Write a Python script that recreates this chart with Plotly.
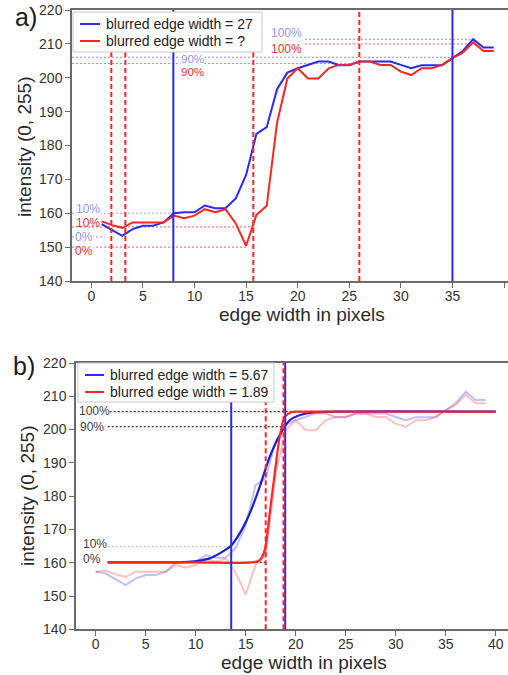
import plotly.graph_objects as go

# ---------------- data ----------------
pixel_x = list(range(40))
blue_intensity = [157.3, 156.8, 155.0, 153.3, 155.3, 156.3, 156.3, 157.3, 160.0, 160.3,
                  160.3, 162.3, 161.5, 161.5, 164.4, 171.3, 183.4, 185.4, 196.6, 201.5,
                  202.8, 203.8, 204.8, 204.8, 203.7, 203.7, 204.8, 204.8, 204.8, 204.8,
                  203.8, 202.8, 203.7, 203.7, 203.7, 205.8, 207.9, 211.4, 208.9, 208.9]
red_intensity = [157.3, 157.6, 156.5, 155.7, 157.3, 157.3, 157.3, 157.3, 159.3, 158.5,
                 159.3, 161.2, 160.3, 161.2, 157.0, 150.4, 159.5, 162.2, 186.7, 199.8,
                 202.8, 199.8, 199.8, 202.8, 203.8, 203.8, 204.8, 204.8, 203.8, 203.8,
                 201.8, 200.8, 202.8, 202.8, 203.8, 205.8, 207.4, 210.5, 207.9, 207.9]

# panel a) edge markers and levels
blue_edges_a = [7.95, 35.0]
red_edges_a = [1.94, 3.3, 15.7, 25.97]
blue_levels_a = {"0%": 153.0, "10%": 160.0, "90%": 206.0, "100%": 211.3}
red_levels_a = {"0%": 150.0, "10%": 156.0, "90%": 204.2, "100%": 210.0}

# panel b) fitted curves (sampled from the picture)
blue_fit_x = [1.2, 4, 7, 9, 10.1, 11.4, 12.4, 13.5, 14.4, 15.4, 16.4, 17.4, 18.4, 19.4, 20.7, 22, 24, 40]
blue_fit_y = [160.1, 160.1, 160.1, 160.2, 160.5, 161.3, 162.8, 165.0, 168.8, 174.8, 182.8, 191.8,
              198.3, 202.8, 204.6, 205.2, 205.4, 205.4]
red_fit_x = [1.2, 10, 15.6, 16.4, 16.9, 17.4, 17.9, 18.4, 18.9, 19.6, 20.5, 40]
red_fit_y = [160.1, 160.1, 160.1, 160.8, 163.8, 174.8, 186.8, 197.8, 203.8, 205.3, 205.4, 205.4]
blue_edges_b = [13.55, 18.95]
red_edges_b = [17.0, 18.78]
levels_b = {"0%": 160.1, "10%": 164.8, "90%": 200.9, "100%": 205.4}

x_ticks = [0, 5, 10, 15, 20, 25, 30, 35, 40]
y_ticks = [140, 150, 160, 170, 180, 190, 200, 210, 220]

legend_a = ["blurred edge width = 27", "blurred edge width = ?"]
legend_b = ["blurred edge width = 5.67", "blurred edge width = 1.89"]

# ---------------- style ----------------
FONT = "Liberation Sans, Arial, sans-serif"
BLUE = "#2a2af2"
RED = "#ff2424"
BLUE_LIGHT = "#a4a4f4"
RED_LIGHT = "#ff7a7a"
BLUE_LABEL = "#9595ee"
RED_LABEL = "#f23030"
AX = "#6a6a6a"
W, H = 508, 675

fig = go.Figure()

# ---- panel a
fig.add_trace(go.Scatter(x=pixel_x[1:], y=blue_intensity[1:], mode="lines",
                         line=dict(color=BLUE, width=2), name=legend_a[0],
                         xaxis="x", yaxis="y", showlegend=False))
fig.add_trace(go.Scatter(x=pixel_x[1:], y=red_intensity[1:], mode="lines",
                         line=dict(color=RED, width=2), name=legend_a[1],
                         xaxis="x", yaxis="y", showlegend=False))

# ---- panel b
fig.add_trace(go.Scatter(x=pixel_x, y=blue_intensity, mode="lines",
                         line=dict(color="rgba(60,60,240,0.32)", width=2), showlegend=False,
                         xaxis="x2", yaxis="y2"))
fig.add_trace(go.Scatter(x=pixel_x, y=red_intensity, mode="lines",
                         line=dict(color="rgba(255,60,60,0.32)", width=2), showlegend=False,
                         xaxis="x2", yaxis="y2"))
fig.add_trace(go.Scatter(x=blue_fit_x, y=blue_fit_y, mode="lines", line_shape="spline",
                         line=dict(color="#1c1cdc", width=2.2, smoothing=0.8),
                         name=legend_b[0], xaxis="x2", yaxis="y2", showlegend=False))
fig.add_trace(go.Scatter(x=red_fit_x, y=red_fit_y, mode="lines", line_shape="spline",
                         line=dict(color=RED, width=2.2, smoothing=0.8),
                         name=legend_b[1], xaxis="x2", yaxis="y2", showlegend=False))

xr_a = [-1.87, 40.38]
xr_b = [-1.97, 41.23]

shapes = []
# panel a horizontal dotted levels
a_extent = {
    ("b", "0%"): (xr_a[0], 1.3), ("b", "10%"): (xr_a[0], blue_edges_a[0]),
    ("b", "90%"): (xr_a[0], blue_edges_a[1]), ("b", "100%"): (20.7, 37),
    ("r", "0%"): (xr_a[0], 15.0), ("r", "10%"): (xr_a[0], red_edges_a[2]),
    ("r", "90%"): (xr_a[0], red_edges_a[3]), ("r", "100%"): (20.7, 37),
}
for (c, k), (x0, x1) in a_extent.items():
    lvl = blue_levels_a[k] if c == "b" else red_levels_a[k]
    col = BLUE_LIGHT if c == "b" else RED_LIGHT
    shapes.append(dict(type="line", xref="x", yref="y", x0=x0, x1=x1, y0=lvl, y1=lvl,
                       line=dict(color=col, width=1.2, dash="2px,2px"), layer="below"))
for v in blue_edges_a:
    shapes.append(dict(type="line", xref="x", yref="y domain", x0=v, x1=v, y0=0, y1=1,
                       line=dict(color=BLUE, width=2)))
for v in red_edges_a:
    shapes.append(dict(type="line", xref="x", yref="y domain", x0=v, x1=v, y0=0, y1=1,
                       line=dict(color=RED, width=2, dash="5px,3px")))

# panel b levels
b_extent = {"0%": (1.2, 17.0), "10%": (1.2, blue_edges_b[0]),
            "90%": (1.2, 18.9), "100%": (1.4, 20.7)}
b_col = {"0%": "#333333", "10%": "#aaaaaa", "90%": "#333333", "100%": "#333333"}
for k, (x0, x1) in b_extent.items():
    shapes.append(dict(type="line", xref="x2", yref="y2", x0=x0, x1=x1,
                       y0=levels_b[k], y1=levels_b[k],
                       line=dict(color=b_col[k], width=1.2, dash="2px,2px"), layer="below"))
for v in blue_edges_b:
    shapes.append(dict(type="line", xref="x2", yref="y2 domain", x0=v, x1=v, y0=0, y1=1,
                       line=dict(color=BLUE, width=2)))
for v in red_edges_b:
    shapes.append(dict(type="line", xref="x2", yref="y2 domain", x0=v, x1=v, y0=0, y1=1,
                       line=dict(color=RED, width=2, dash="5px,3px")))


def px2p(px, py):
    return px / W, 1 - py / H


annotations = []

# ---- hand-built legends (box in pixels: left, top, right, bottom)
def add_legend(box, names, colors, rows_y, line_x0, line_x1, text_x):
    x0, y1 = px2p(box[0], box[1])
    x1, y0 = px2p(box[2], box[3])
    shapes.append(dict(type="rect", xref="paper", yref="paper", x0=x0, x1=x1, y0=y0, y1=y1,
                       fillcolor="white", line=dict(color="#c8c8c8", width=1), layer="above"))
    for name, col, ry in zip(names, colors, rows_y):
        lx0, ly = px2p(line_x0, ry)
        lx1, _ = px2p(line_x1, ry)
        shapes.append(dict(type="line", xref="paper", yref="paper", x0=lx0, x1=lx1, y0=ly, y1=ly,
                           line=dict(color=col, width=2), layer="above"))
        tx, ty = px2p(text_x, ry)
        annotations.append(dict(text=name, x=tx, y=ty, xref="paper", yref="paper",
                                showarrow=False, xanchor="left", yanchor="middle",
                                font=dict(family=FONT, size=14, color="#222222")))


add_legend((73, 12, 262, 52), legend_a, [BLUE, RED], [24, 41], 80, 100, 104)
add_legend((78, 363, 274, 402), legend_b, [BLUE, RED], [375, 392], 85, 104, 108)


def lab(text, x, y, xref, yref, color, yshift=0, bg=None, size=12):
    d = dict(text=text, x=x, y=y, xref=xref, yref=yref, showarrow=False,
             font=dict(family=FONT, size=size, color=color), yshift=yshift,
             xanchor="center", yanchor="middle", borderpad=0)
    if bg:
        d["bgcolor"] = bg
    annotations.append(d)


# panel a level labels
lab("100%", 18.96, blue_levels_a["100%"], "x", "y", BLUE_LABEL, yshift=6)
lab("100%", 18.96, red_levels_a["100%"], "x", "y", RED_LABEL, yshift=-5)
lab("90%", 9.76, blue_levels_a["90%"], "x", "y", BLUE_LABEL, yshift=-2, bg="white", size=11.5)
lab("90%", 9.76, red_levels_a["90%"], "x", "y", RED_LABEL, yshift=-8, bg="white", size=11.5)
lab("10%", -0.32, blue_levels_a["10%"], "x", "y", BLUE_LABEL, yshift=4, bg="white")
lab("10%", -0.32, red_levels_a["10%"], "x", "y", RED_LABEL, yshift=4)
lab("0%", -0.71, blue_levels_a["0%"], "x", "y", BLUE_LABEL, yshift=0, bg="white")
lab("0%", -0.71, red_levels_a["0%"], "x", "y", RED_LABEL, yshift=-3.5, bg="white")

# panel b level labels
lab("100%", -0.17, levels_b["100%"], "x2", "y2", "#404040", yshift=1)
lab("90%", -0.37, levels_b["90%"], "x2", "y2", "#404040", yshift=0)
lab("10%", -0.12, levels_b["10%"], "x2", "y2", "#404040", yshift=3)
lab("0%", -0.37, levels_b["0%"], "x2", "y2", "#404040", yshift=3)

# axis titles and panel letters (paper coords from pixels)
for txt, (px, py), ang in [("edge width in pixels", (302, 314), 0),
                           ("edge width in pixels", (304, 662), 0),
                           ("intensity (0, 255)", (25, 147), -90),
                           ("intensity (0, 255)", (27, 496), -90)]:
    x, y = px2p(px, py)
    annotations.append(dict(text=txt, x=x, y=y, xref="paper", yref="paper", showarrow=False,
                            textangle=ang, xanchor="center", yanchor="middle",
                            font=dict(family=FONT, size=19, color="#2a2a2a")))
for txt, (px, py) in [("a)", (26, 17)), ("b)", (24, 366))]:
    x, y = px2p(px, py)
    annotations.append(dict(text=txt, x=x, y=y, xref="paper", yref="paper", showarrow=False,
                            xanchor="center", yanchor="middle",
                            font=dict(family=FONT, size=25, color="#1a1a1a")))

axis_common = dict(showline=True, linecolor=AX, linewidth=1.5, ticks="outside", ticklen=5,
                   tickwidth=1.3, tickcolor=AX, showgrid=False, zeroline=False,
                   automargin=False,
                   tickfont=dict(family=FONT, size=14, color="#333333"))

fig.update_layout(
    template="none",
    width=W, height=H, margin=dict(l=0, r=0, t=0, b=0, pad=0),
    paper_bgcolor="white", plot_bgcolor="white", showlegend=False,
    xaxis=dict(domain=[72 / W, 1], range=xr_a, anchor="y", tickvals=x_ticks, mirror=True,
               ticklabelstandoff=-4, **axis_common),
    yaxis=dict(domain=[1 - 281 / H, 1 - 10 / H], range=[140, 220], anchor="x",
               tickvals=y_ticks, **axis_common),
    xaxis2=dict(domain=[76 / W, 1], range=xr_b, anchor="y2", tickvals=x_ticks, mirror=True,
                ticklabelstandoff=-4, **axis_common),
    yaxis2=dict(domain=[1 - 629.3 / H, 1 - 363 / H], range=[140, 220], anchor="x2",
                tickvals=y_ticks, **axis_common),
    shapes=shapes, annotations=annotations,
)

fig.write_html("out.html")
